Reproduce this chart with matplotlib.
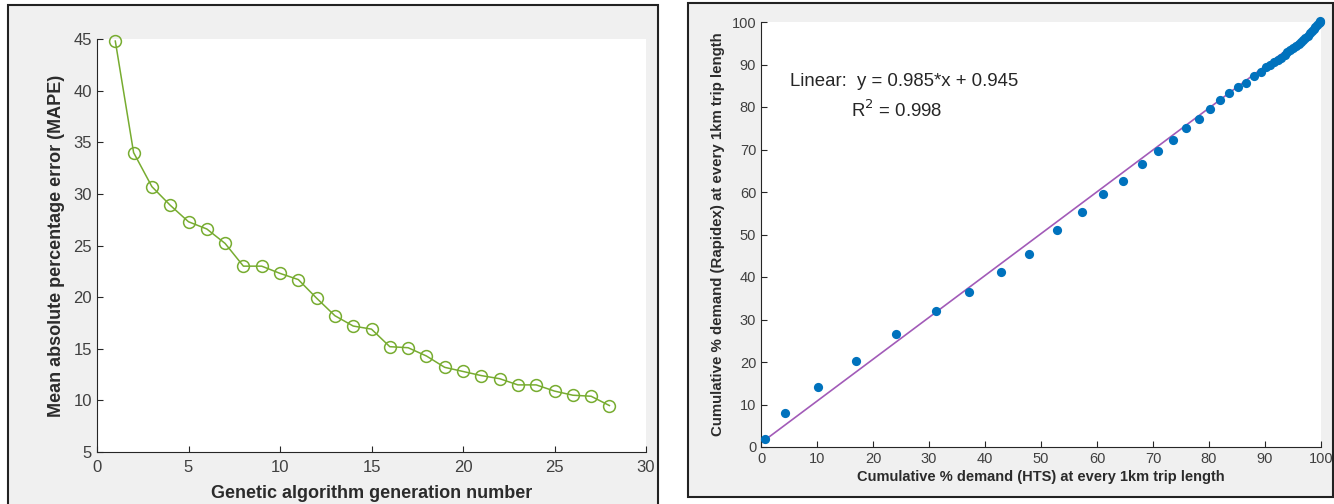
import numpy as np
import matplotlib
matplotlib.use('Agg')
import matplotlib.pyplot as plt
from matplotlib.patches import Rectangle

plt.rcParams['font.family'] = ['Liberation Sans', 'DejaVu Sans']

# left panel: MAPE per generation
generation = list(range(1, 29))
mape = [44.8, 34.0, 30.7, 28.9, 27.3, 26.6, 25.2, 23.0, 23.0, 22.3,
        21.7, 19.9, 18.2, 17.2, 16.9, 15.2, 15.1, 14.3, 13.2, 12.8,
        12.4, 12.1, 11.5, 11.5, 10.9, 10.5, 10.4, 9.5]

# right panel: cumulative demand HTS vs Rapidex
hts = [0.7, 4.3, 10.1, 17.0, 24.1, 31.2, 37.2, 42.9, 47.8, 52.8,
       57.3, 61.1, 64.7, 68.1, 70.9, 73.5, 75.9, 78.2, 80.2, 82.0,
       83.6, 85.1, 86.6, 88.0, 89.2, 90.1, 90.9, 91.6, 92.3, 92.9,
       93.5, 94.0, 94.5, 95.0, 95.5, 96.0, 96.4, 96.8, 97.2, 97.6,
       98.0, 98.4, 98.7, 99.0, 99.3, 99.6, 99.8, 99.9]
rapidex = [1.8, 8.0, 14.1, 20.2, 26.6, 32.0, 36.5, 41.1, 45.3, 51.1,
           55.2, 59.5, 62.6, 66.5, 69.6, 72.3, 75.0, 77.2, 79.6, 81.6,
           83.3, 84.6, 85.7, 87.2, 88.3, 89.4, 90.0, 90.5, 91.0, 91.6,
           92.3, 92.9, 93.4, 93.9, 94.3, 94.8, 95.3, 95.8, 96.3, 96.8,
           97.3, 97.9, 98.4, 98.9, 99.3, 99.7, 100.0, 100.3]
slope, intercept = 0.985, 0.945

W, H = 1334, 504
fig = plt.figure(figsize=(W / 100, H / 100), dpi=100)
fig.patch.set_facecolor('white')

def px(x0, y0, x1, y1):
    return [x0 / W, 1 - y1 / H, (x1 - x0) / W, (y1 - y0) / H]

# panel frames
for x0, y0, x1, y1 in [(8, 5, 658, 506), (688, 3, 1333, 497)]:
    r = px(x0, y0, x1, y1)
    fig.patches.append(Rectangle((r[0], r[1]), r[2], r[3], transform=fig.transFigure,
                                 facecolor='#f0f0f0', edgecolor='#222222', lw=1.5, zorder=-5))

tick_col = '#404040'

def style(ax):
    ax.set_facecolor('white')
    for s in ['top', 'right']:
        ax.spines[s].set_visible(False)
    for s in ['left', 'bottom']:
        ax.spines[s].set_color('#262626')
        ax.spines[s].set_linewidth(0.8)
    ax.tick_params(direction='in', length=4, width=0.8, colors='#262626',
                   labelcolor=tick_col, labelsize=12)

ax1 = fig.add_axes(px(97, 39, 646, 452))
style(ax1)
ax1.tick_params(axis='x', pad=6)
ax1.plot(generation, mape, color='#77AC30', lw=1.1, marker='o', markersize=8.5,
         markerfacecolor='none', markeredgewidth=1.1, clip_on=False)
ax1.set_xlim(0, 30)
ax1.set_ylim(5, 45)
ax1.set_xticks(range(0, 31, 5))
ax1.set_yticks(range(5, 46, 5))
ax1.set_xlabel('Genetic algorithm generation number', fontsize=13, fontweight='bold',
               color='#2b2b2b', labelpad=7)
ax1.set_ylabel('Mean absolute percentage error (MAPE)', fontsize=13, fontweight='bold',
               color='#2b2b2b', labelpad=6)

ax2 = fig.add_axes(px(761, 22, 1321, 447))
style(ax2)
ax2.tick_params(labelsize=10.5)
xl = np.array([0, 100])
ax2.plot(xl, slope * xl + intercept, color='#A25BB8', lw=1.2, zorder=2)
ax2.scatter(hts, rapidex, s=44, color='#0072BD', zorder=3, clip_on=False, linewidths=0)
ax2.set_xlim(0, 100)
ax2.set_ylim(0, 100)
ax2.set_xticks(range(0, 101, 10))
ax2.set_yticks(range(0, 101, 10))
ax2.set_xlabel('Cumulative % demand (HTS) at every 1km trip length', fontsize=10.5,
               fontweight='bold', color='#2b2b2b', labelpad=3)
ax2.set_ylabel('Cumulative % demand (Rapidex) at every 1km trip length', fontsize=10.8,
               fontweight='bold', color='#2b2b2b', labelpad=5)
ax2.text(5.2, 85.9, 'Linear:  y = 0.985*x + 0.945', fontsize=13.4, color='#262626', va='center')
ax2.text(16, 79.3, r'R$^2$ = 0.998', fontsize=13.4, color='#262626', va='center')

fig.savefig('out.png', dpi=100)
